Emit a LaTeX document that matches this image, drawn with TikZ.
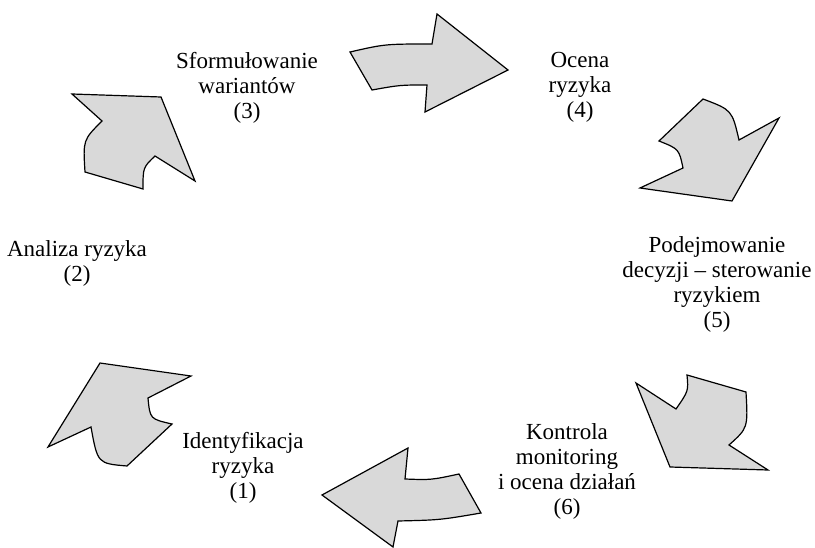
\documentclass[tikz,border=0pt]{standalone}
\usepackage{fontspec}
\setmainfont{Liberation Serif}
\definecolor{arrowgray}{RGB}{217,217,217}
\begin{document}
\begin{tikzpicture}[x=1pt,y=-1pt,
  blockarrow/.style={fill=arrowgray, draw=black, line width=1.2pt, line join=miter},
  lbl/.style={align=center, font=\fontsize{23}{25}\selectfont, anchor=base, inner sep=0pt}]
\useasboundingbox (0,0) rectangle (815,548);
% arrow 1 (top, to the right)
\draw[blockarrow] (350,52) .. controls (385,44) .. (432,44) -- (437,14) -- (508,70) -- (425,112) -- (427,85) .. controls (400,85) .. (372,90) -- cycle;
% arrow 2 (top right)
\draw[blockarrow] (703,99) .. controls (732,110) .. (739,140) -- (779,118) -- (732,201) -- (640,188) -- (683,168) .. controls (679,149) .. (659,141) -- cycle;
% arrow 3 (bottom right)
\draw[blockarrow] (687,375) -- (746,392) .. controls (748,428) .. (729,445) -- (768,470) -- (670,467) -- (636,383) -- (676,409) .. controls (688.5,391) .. cycle;
% arrow 4 (bottom, to the left)
\draw[blockarrow] (459,474) -- (481,513) .. controls (440,520) .. (398,521) -- (393,547) -- (322,495) -- (408,448) -- (405,479) .. controls (431,480) .. cycle;
% arrow 5 (bottom left)
\draw[blockarrow] (172,424) -- (127,466) .. controls (97.6,463.5) .. (91,427) -- (48,447) -- (100,363) -- (191,376) -- (148,398) .. controls (150,419) .. cycle;
% arrow 6 (top left)
\draw[blockarrow] (72,94) -- (161,97) -- (195,181) -- (155,156) .. controls (143,167.5) .. (143,189) -- (85,172) .. controls (83,140) .. (102,121) -- cycle;
% labels (anchor = baseline of the last line)
\node[lbl] (t3) at (247,119) {Sformułowanie\\wariantów\\(3)};
\node[lbl] (t4) at (580,118) {Ocena\\ryzyka\\(4)};
\node[lbl] (t2) at (77,282) {Analiza ryzyka\\(2)};
\node[lbl] (t5) at (717,328) {Podejmowanie\\decyzji – sterowanie\\ryzykiem\\(5)};
\node[lbl] (t1) at (243,498) {Identyfikacja\\ryzyka\\(1)};
\node[lbl] (t6) at (567,514) {Kontrola\\monitoring\\i ocena działań\\(6)};
\end{tikzpicture}
\end{document}
